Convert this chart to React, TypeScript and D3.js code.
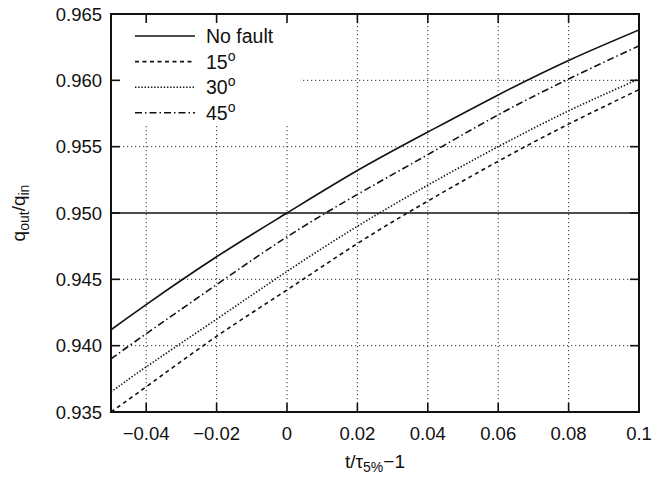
import React from "react";
import * as d3 from "d3";

const xValues = [-0.05, -0.04, -0.02, 0, 0.02, 0.04, 0.06, 0.08, 0.1];
const noFault = [0.9412, 0.9431, 0.9467, 0.95, 0.9532, 0.9561, 0.9589, 0.9615, 0.9638];
const deg15 = [0.935, 0.9369, 0.9407, 0.9442, 0.9477, 0.9509, 0.9539, 0.9567, 0.9593];
const deg30 = [0.9365, 0.9384, 0.942, 0.9456, 0.949, 0.9521, 0.955, 0.9577, 0.9601];
const deg45 = [0.939, 0.9409, 0.9446, 0.9482, 0.9514, 0.9544, 0.9574, 0.9601, 0.9626];
const seriesNames = ["No fault", "15", "30", "45"];
const xTicks = [-0.04, -0.02, 0, 0.02, 0.04, 0.06, 0.08, 0.1];
const xTickLabels = ["\u22120.04", "\u22120.02", "0", "0.02", "0.04", "0.06", "0.08", "0.1"];
const yTicks = [0.935, 0.94, 0.945, 0.95, 0.955, 0.96, 0.965];
const yTickLabels = ["0.935", "0.940", "0.945", "0.950", "0.955", "0.960", "0.965"];
const referenceLevel = 0.95;

const W = 653, H = 479;
const L = 111, R = 639, T = 14, B = 412;
const FONT = "'Liberation Sans', Arial, Helvetica, sans-serif";

export default function App() {
  const x = d3.scaleLinear().domain([-0.05, 0.1]).range([L, R]);
  const y = d3.scaleLinear().domain([0.935, 0.965]).range([B, T]);
  const line = d3
    .line<[number, number]>()
    .x((d) => x(d[0]))
    .y((d) => y(d[1]))
    .curve(d3.curveNatural);
  const series = [noFault, deg15, deg30, deg45];
  const dashes = ["none", "4,3.5", "1.4,1.8", "7,3,1.5,3"];
  const tickLen = 9;

  return (
    <svg
      width={W}
      height={H}
      style={{ position: "absolute", left: 0, top: 0, background: "#fff" }}
      fontFamily={FONT}
    >
      <defs>
        <clipPath id="plot">
          <rect x={L} y={T} width={R - L} height={B - T} />
        </clipPath>
      </defs>
      <rect x={0} y={0} width={W} height={H} fill="#fff" />
      {/* grid */}
      <g stroke="#333" strokeWidth={1} strokeDasharray="1.2,2.8">
        {xTicks.map((t, i) => (
          <line key={"gx" + i} x1={x(t)} x2={x(t)} y1={T} y2={B} />
        ))}
        {yTicks.map((t, i) =>
          t === referenceLevel ? null : (
            <line key={"gy" + i} x1={L} x2={R} y1={y(t)} y2={y(t)} />
          )
        )}
      </g>
      {/* reference line */}
      <line
        x1={L}
        x2={R}
        y1={y(referenceLevel)}
        y2={y(referenceLevel)}
        stroke="#111"
        strokeWidth={1.5}
      />
      {/* curves */}
      <g clipPath="url(#plot)" fill="none" stroke="#111" strokeWidth={1.6}>
        {series.map((s, i) => (
          <path
            key={"s" + i}
            d={line(xValues.map((xv, j) => [xv, s[j]] as [number, number])) || ""}
            strokeDasharray={dashes[i]}
          />
        ))}
      </g>
      {/* legend */}
      <rect x={L + 1} y={T + 1} width={188} height={110} fill="#fff" />
      <g fontSize={19.5} fill="#111">
        {seriesNames.map((n, i) => {
          const ly = 36 + i * 25.6;
          return (
            <g key={"lg" + i}>
              <line
                x1={135}
                x2={195}
                y1={ly}
                y2={ly}
                stroke="#111"
                strokeWidth={1.6}
                strokeDasharray={dashes[i]}
              />
              <text x={206} y={ly + 7}>
                {n}
                {i > 0 ? (
                  <tspan dy={-8} fontSize={14}>
                    o
                  </tspan>
                ) : null}
              </text>
            </g>
          );
        })}
      </g>
      {/* frame and ticks */}
      <g stroke="#111" strokeWidth={1.6}>
        {xTicks.map((t, i) => (
          <g key={"tx" + i}>
            <line x1={x(t)} x2={x(t)} y1={B} y2={B - tickLen} />
            <line x1={x(t)} x2={x(t)} y1={T} y2={T + tickLen} />
          </g>
        ))}
        {yTicks.map((t, i) => (
          <g key={"ty" + i}>
            <line x1={L} x2={L + tickLen} y1={y(t)} y2={y(t)} />
            <line x1={R} x2={R - tickLen} y1={y(t)} y2={y(t)} />
          </g>
        ))}
      </g>
      <rect x={L} y={T} width={R - L} height={B - T} fill="none" stroke="#111" strokeWidth={2} />
      {/* tick labels */}
      <g fontSize={18.5} fill="#111">
        {xTicks.map((t, i) => (
          <text key={"xl" + i} x={x(t)} y={440} textAnchor="middle">
            {xTickLabels[i]}
          </text>
        ))}
        {yTicks.map((t, i) => (
          <text key={"yl" + i} x={102} y={y(t) + 6.5} textAnchor="end">
            {yTickLabels[i]}
          </text>
        ))}
      </g>
      {/* axis labels */}
      <text x={L + (R - L) / 2} y={468} textAnchor="middle" fontSize={19} fill="#111">
        t/τ
        <tspan dy={4} fontSize={14}>
          5%
        </tspan>
        <tspan dy={-4}>{"\u22121"}</tspan>
      </text>
      <text
        transform={`translate(25, ${(T + B) / 2}) rotate(-90)`}
        textAnchor="middle"
        fontSize={19}
        fill="#111"
      >
        q
        <tspan dy={4} fontSize={14}>
          out
        </tspan>
        <tspan dy={-4}>/q</tspan>
        <tspan dy={4} fontSize={14}>
          in
        </tspan>
      </text>
    </svg>
  );
}
